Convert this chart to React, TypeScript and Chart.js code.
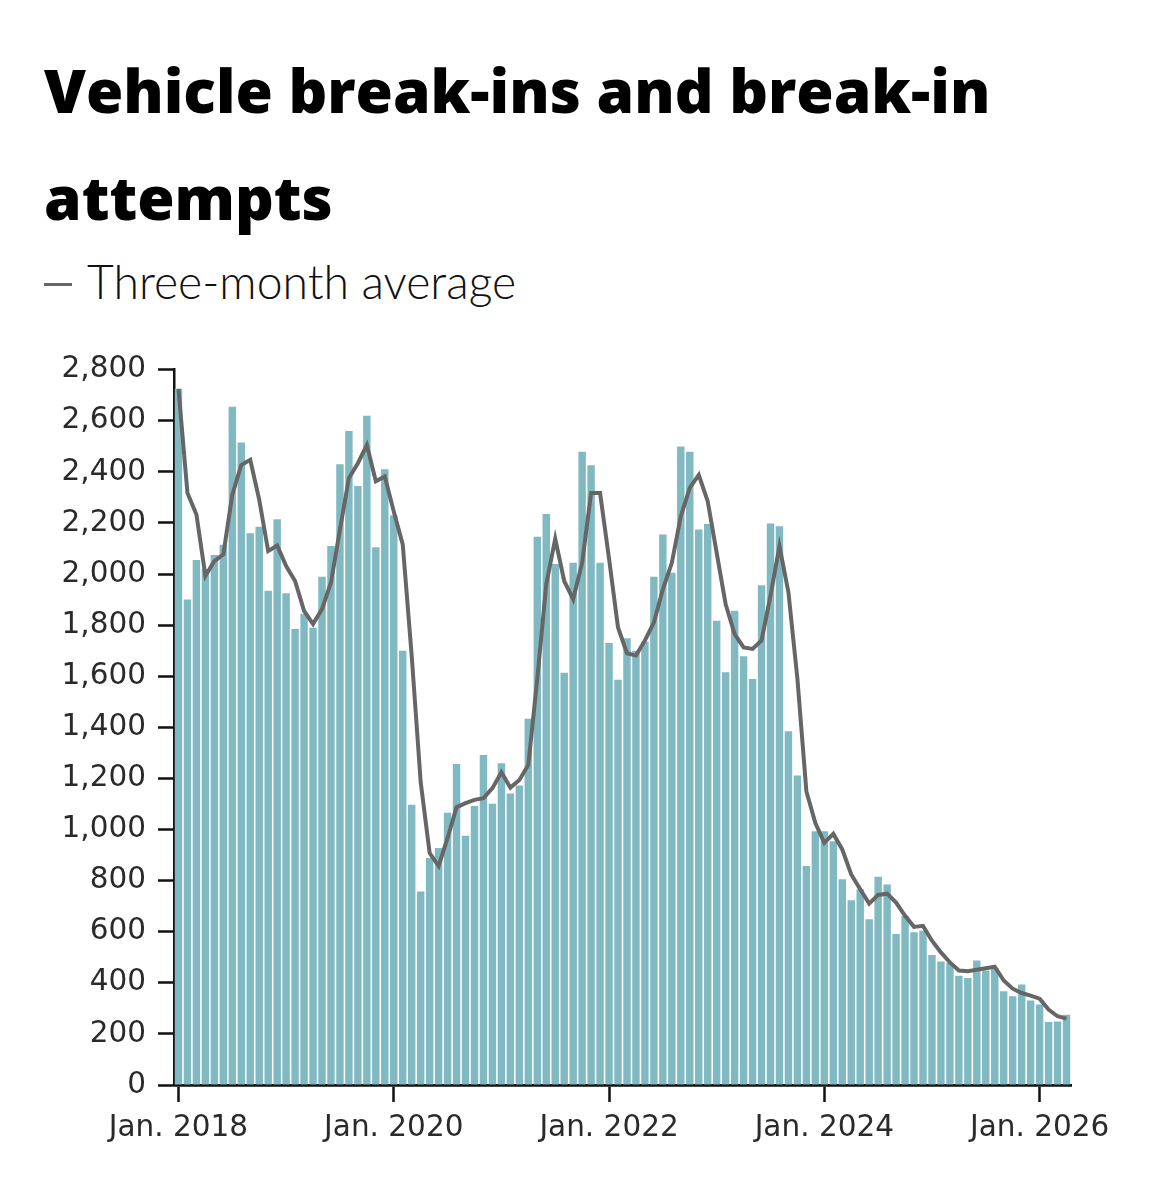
import React, { useEffect, useRef } from "react";
import { Chart, registerables } from "chart.js";

Chart.register(...registerables);

const monthNames = ["Jan.", "Feb.", "March", "April", "May", "June", "July", "Aug.", "Sept.", "Oct.", "Nov.", "Dec."];
const years = [2018, 2019, 2020, 2021, 2022, 2023, 2024, 2025, 2026];
const monthCount = 100;

const categories: string[] = [];
for (const y of years) {
  for (const m of monthNames) {
    if (categories.length < monthCount) categories.push(`${m} ${y}`);
  }
}

const xTickLabels = ["Jan. 2018", "Jan. 2020", "Jan. 2022", "Jan. 2024", "Jan. 2026"];
const yTicks = [0, 200, 400, 600, 800, 1000, 1200, 1400, 1600, 1800, 2000, 2200, 2400, 2600, 2800];

const monthlyCounts = [
  2725, 1900, 2055, 2020, 2075, 2115, 2655, 2515, 2160, 2185, 1935, 2215,
  1925, 1785, 1845, 1790, 1990, 2110, 2430, 2560, 2345, 2620, 2105, 2410,
  2230, 1700, 1097, 757, 889, 928, 1066, 1257, 976, 1092, 1292, 1101,
  1259, 1141, 1172, 1434, 2146, 2235, 2039, 1614, 2044, 2479, 2426, 2044,
  1730, 1586, 1749, 1700, 1735, 1990, 2155, 2005, 2499, 2479, 2174, 2196,
  1817, 1616, 1856, 1678, 1589, 1956, 2198, 2187, 1385, 1212, 857, 993,
  993, 954, 805, 723, 766, 649, 815, 785, 591, 662, 598, 604,
  509, 483, 478, 428, 419, 487, 448, 458, 367, 347, 393, 331,
  315, 247, 249, 275,
];

const threeMonthAverage = [
  2725, 2317, 2233, 1993, 2051, 2077, 2311, 2427, 2447, 2291, 2090, 2112,
  2031, 1973, 1856, 1804, 1863, 1967, 2174, 2375, 2434, 2505, 2363, 2382,
  2245, 2116, 1680, 1186, 908, 857, 967, 1087, 1103, 1116, 1123, 1162,
  1224, 1164, 1194, 1253, 1590, 1960, 2138, 1973, 1902, 2044, 2317, 2317,
  2060, 1791, 1690, 1681, 1740, 1811, 1940, 2044, 2226, 2337, 2388, 2285,
  2083, 1882, 1765, 1713, 1707, 1740, 1915, 2109, 1928, 1590, 1149, 1025,
  948, 983, 922, 824, 766, 710, 744, 749, 714, 662, 619, 623,
  565, 519, 480, 448, 445, 451, 457, 463, 409, 377, 360, 350,
  338, 295, 269, 260,
];

const tickFont = { family: "'DejaVu Sans', sans-serif", size: 29.5, weight: "normal" as any };

export default function App() {
  const canvasRef = useRef<HTMLCanvasElement | null>(null);

  useEffect(() => {
    if (!canvasRef.current) return;
    const chart = new Chart(canvasRef.current, {
      type: "bar",
      data: {
        labels: categories,
        datasets: [
          {
            type: "line",
            label: "Three-month average",
            data: threeMonthAverage,
            borderColor: "#666666",
            borderWidth: 4,
            pointRadius: 0,
            tension: 0,
            order: 0,
            borderJoinStyle: "miter",
          } as any,
          {
            type: "bar",
            label: "Vehicle break-ins",
            data: monthlyCounts,
            backgroundColor: "#80b9c2",
            barPercentage: 0.83,
            categoryPercentage: 1,
            order: 1,
          },
        ],
      },
      options: {
        animation: false,
        responsive: false,
        maintainAspectRatio: false,
        layout: { padding: { left: 0, right: 87, top: 26, bottom: 0 } },
        plugins: { legend: { display: false }, tooltip: { enabled: false } },
        scales: {
          x: {
            type: "category",
            offset: true,
            grid: {
              display: true,
              drawOnChartArea: false,
              drawTicks: true,
              offset: false,
              tickLength: 17,
              tickWidth: 2.5,
              tickColor: (ctx: any) =>
                xTickLabels.includes(categories[ctx.index]) ? "#111111" : "rgba(0,0,0,0)",
            },
            border: { display: true, color: "#111111", width: 2.7 },
            ticks: {
              autoSkip: false,
              maxRotation: 0,
              minRotation: 0,
              padding: 9,
              color: "#2a2a2a",
              font: tickFont,
              callback: (_v: any, i: number) =>
                xTickLabels.includes(categories[i]) ? categories[i] : "",
            },
            afterFit: (scale: any) => {
              scale.height = 95;
            },
          },
          y: {
            type: "linear",
            min: 0,
            max: 2800,
            afterBuildTicks: (scale: any) => {
              scale.ticks = yTicks.map((v) => ({ value: v }));
            },
            grid: {
              display: true,
              drawOnChartArea: false,
              drawTicks: true,
              tickLength: 16,
              tickWidth: 2.5,
              tickColor: "#111111",
            },
            border: { display: true, color: "#111111", width: 2.5 },
            ticks: {
              padding: 12,
              color: "#2a2a2a",
              font: tickFont,
              callback: (v: any) => Number(v).toLocaleString("en-US"),
            },
            afterFit: (scale: any) => {
              scale.width = 174;
            },
          },
        },
      },
    });
    return () => chart.destroy();
  }, []);

  const titleStyle: React.CSSProperties = {
    position: "absolute",
    left: 44,
    fontFamily: "'Open Sans', sans-serif",
    fontWeight: 800,
    fontSize: 60.4,
    lineHeight: "60px",
    color: "#000000",
    whiteSpace: "nowrap",
  };

  return (
    <div style={{ position: "absolute", left: 0, top: 0, width: 1158, height: 1200, background: "#ffffff" }}>
      <div style={{ ...titleStyle, top: 60 }}>Vehicle break-ins and break-in</div>
      <div style={{ ...titleStyle, top: 167 }}>attempts</div>
      <div style={{ position: "absolute", left: 44, top: 283, width: 28, height: 3, background: "#666666" }} />
      <div
        style={{
          position: "absolute",
          left: 87,
          top: 258,
          fontFamily: "Lato, sans-serif",
          fontWeight: 300,
          fontSize: 46.3,
          lineHeight: "46px",
          color: "#111111",
          whiteSpace: "nowrap",
        }}
      >
        Three-month average
      </div>
      <canvas
        ref={canvasRef}
        width={1158}
        height={840}
        style={{ position: "absolute", left: 0, top: 340, width: 1158, height: 840 }}
      />
    </div>
  );
}
